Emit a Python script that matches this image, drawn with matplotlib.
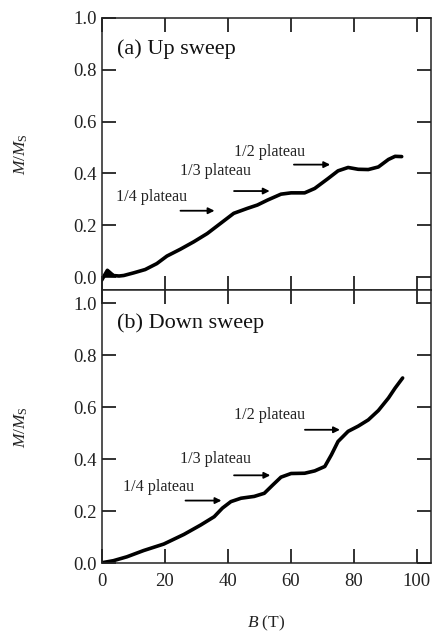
import matplotlib
matplotlib.use("Agg")
import matplotlib.pyplot as plt

plt.rcParams['font.family'] = ['Liberation Serif', 'DejaVu Serif']
plt.rcParams['mathtext.fontset'] = 'custom'
plt.rcParams['mathtext.rm'] = 'Liberation Serif'
plt.rcParams['mathtext.it'] = 'Liberation Serif:italic'

# Up sweep data
up_B = [0.0, 1.8, 3.3, 1.2, 3.5, 5.5, 7.0, 10.1, 13.8, 17.5, 20.7, 24.9, 29.2, 33.5, 37.7,
        41.9, 46.2, 49.4, 52.6, 56.9, 60.1, 64.4, 67.6, 71.8, 75.0, 78.2, 81.4,
        84.6, 87.8, 91.0, 93.1, 95.2]
up_M = [-0.012, 0.026, 0.010, 0.008, 0.006, 0.004, 0.006, 0.016, 0.029, 0.052, 0.081, 0.107,
        0.136, 0.168, 0.207, 0.246, 0.265, 0.278, 0.297, 0.320, 0.325, 0.325,
        0.342, 0.380, 0.410, 0.423, 0.416, 0.415, 0.425, 0.454, 0.466, 0.465]

# Down sweep data
down_B = [0.0, 3.7, 8.0, 13.3, 19.7, 26.1, 31.4, 35.7, 38.3, 41.0, 44.2, 48.4, 51.6,
          54.3, 56.9, 60.1, 64.4, 67.6, 70.8, 72.9, 75.0, 78.2, 81.4, 84.6, 87.8,
          91.0, 93.1, 95.5]
down_M = [0.002, 0.010, 0.025, 0.049, 0.074, 0.111, 0.147, 0.179, 0.212, 0.237,
          0.250, 0.257, 0.269, 0.301, 0.331, 0.345, 0.346, 0.355, 0.372, 0.417,
          0.468, 0.507, 0.527, 0.551, 0.587, 0.635, 0.673, 0.712]

plateau_labels = ['1/4 plateau', '1/3 plateau', '1/2 plateau']
panel_titles = ['(a) Up sweep', '(b) Down sweep']

# annotation positions (text x, text y, arrow x0, arrow x1, arrow y)
up_annot = [(4.6, 0.309, 25.0, 35.8, 0.256),
            (25.0, 0.410, 42.0, 53.3, 0.332),
            (42.0, 0.484, 61.0, 72.5, 0.434)]
down_annot = [(6.7, 0.295, 26.6, 38.0, 0.241),
              (25.0, 0.400, 42.0, 53.5, 0.338),
              (42.0, 0.570, 64.5, 75.6, 0.513)]

W, H = 432, 633
fig = plt.figure(figsize=(W / 100, H / 100), dpi=100)
x0, x1 = 101.7, 431.0
ax1 = fig.add_axes([x0 / W, (H - 290) / H, (x1 - x0) / W, 272 / H])
ax2 = fig.add_axes([x0 / W, (H - 563.3) / H, (x1 - x0) / W, 273.3 / H])

spine_c = '#222222'
for ax, B, M, title, annot, ylim in [
        (ax1, up_B, up_M, panel_titles[0], up_annot, (-0.05, 1.0)),
        (ax2, down_B, down_M, panel_titles[1], down_annot, (0.0, 1.05))]:
    ax.plot(B, M, color='black', lw=2.6, solid_joinstyle='round', solid_capstyle='round')
    ax.set_xlim(0, 104.5)
    ax.set_ylim(*ylim)
    ax.set_xticks([0, 20, 40, 60, 80, 100])
    ax.set_yticks([0.0, 0.2, 0.4, 0.6, 0.8, 1.0])
    ax.set_yticklabels(['0.0', '0.2', '0.4', '0.6', '0.8', '1.0'])
    ax.tick_params(direction='in', length=10, width=1.3, top=True, right=True,
                   labelsize=13.5, colors=spine_c, labelcolor='#222222')
    ax.tick_params(axis='y', pad=3.5)
    ax.tick_params(axis='x', pad=7)
    for s in ax.spines.values():
        s.set_linewidth(1.1)
        s.set_color(spine_c)
    ax.text(4.9, ylim[1] - (0.12 if ax is ax1 else 0.127), title, fontsize=16,
            va='center', ha='left', color='#111111')
    for (tx, ty, ax0_, ax1_, ay), lab in zip(annot, plateau_labels):
        ax.text(tx, ty, lab, fontsize=11.6, va='center', ha='left', color='#222222')
        ax.annotate('', xy=(ax1_, ay), xytext=(ax0_, ay),
                    arrowprops=dict(arrowstyle='-|>', color='black', lw=1.3,
                                    mutation_scale=9, shrinkA=0, shrinkB=0))
    ax.set_ylabel(r'$\mathit{M}/\mathit{M}_{\mathrm{S}}$', fontsize=12.5, color='#222222')
    ax.yaxis.set_label_coords(-80 / (x1 - x0), 0.5)
    ax.yaxis.label.set_va('center')

ax1.tick_params(labelbottom=False)
ax2.set_xlabel(r'$\mathit{B}$ (T)', fontsize=12.5, color='#222222')
ax2.xaxis.set_label_coords(0.5, -60 / 273.3)
ax2.xaxis.label.set_va('center')

fig.savefig('out.png', dpi=100)
